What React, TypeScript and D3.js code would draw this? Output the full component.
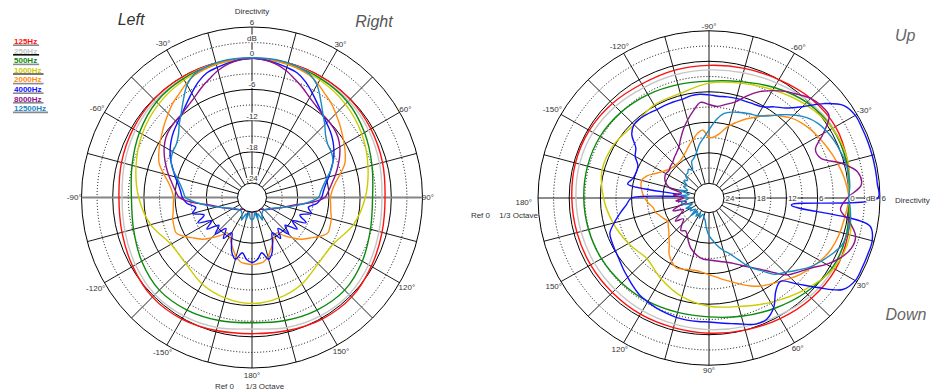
import React from 'react';
import * as d3 from 'd3';

// ── Data ────────────────────────────────────────────────────────────────────

const FREQS = ['125Hz', '250Hz', '500Hz', '1000Hz', '2000Hz', '4000Hz', '8000Hz', '12500Hz'];
const COLORS = ['#ff1010', '#c6c6c6', '#0c8a0c', '#cccc00', '#ff8c10', '#1010ff', '#8c148c', '#1a88c4'];
const UNDERLINES = ['#8a8a8a', '#111111', '#8a8a8a', '#555555', '#8a8a8a', '#8a8a8a', '#8a8a8a', '#8a8a8a'];

// Horizontal plot (Left / Right): 0° at top, half turn 0..180°, mirrored to the left side
const H_COARSE = d3.range(0, 181, 15);
const H_FINE = d3.range(0, 181, 5);
const H_125 = [0, 0, 0, -0.1, -0.4, -0.8, -1.2, -0.9, -0.3, 0.3, 0.2, -0.3, -0.6];
const H_250 = [0, -0.1, -0.3, -0.5, -0.9, -1.4, -1.8, -1.5, -0.9, -0.4, -0.5, -0.9, -1.5];
const H_500 = [0, -0.2, -0.4, -0.8, -1.8, -2.9, -3.6, -3.2, -2.3, -1.6, -1.8, -2.3, -2.7];
const H_1000 = [0, -0.3, -0.7, -1.4, -2.4, -3.7, -5.0, -6.6, -8.8, -8.8, -7.6, -6.8, -6.4];
const H_2000 = [0, 0, -0.1, -0.3, -0.5, -0.8, -1.5, -2.4, -3.1, -4.0, -4.8, -5.6, -6.3, -7.0, -7.8, -9.2, -10.5, -11.3, -11.7,
  -11.6, -11.4, -11.0, -10.8, -10.7, -11.8, -13.2, -14.3, -15.8, -17.2, -18.5, -18.2, -17.2, -16.2, -15.0, -14.2, -14.0, -13.9];
const H_4000 = [0, -0.2, -0.5, -0.9, -1.3, -2.3, -3.6, -4.8, -5.8, -6.5, -7.1, -7.8, -8.6, -9.5, -10.6, -11.5, -12.4, -13.0, -13.4,
  -14.2, -15.8, -15.0, -17.0, -15.3, -17.8, -16.2, -18.5, -16.8, -19.0, -17.2, -19.0, -17.5, -15.5, -14.5, -16.0, -14.8, -14.3];
const H_8000 = [0, -0.2, -0.7, -1.5, -2.6, -3.6, -4.6, -5.3, -5.8, -6.0, -6.2, -6.6, -7.3, -8.2, -9.2, -10.2, -11.2, -12.0, -12.8,
  -15.5, -18.5, -20.0, -21.0, -21.8, -22.4, -22.8, -23.2, -23.5, -23.8, -24, -24, -24, -24, -24, -24, -24, -24];
const H_12500 = [0.1, 0.1, 0.1, 0, -0.2, -0.6, -1.8, -3.8, -5.6, -7.0, -8.3, -9.0, -9.2, -9.6, -10.5, -11.8, -12.8, -13.5, -14.0,
  -16.0, -18.0, -19.8, -21.0, -22.0, -22.6, -23.0, -23.2, -23.4, -23.5, -23.3, -23.0, -22.0, -23.5, -22.5, -23.8, -22.8, -22.5];

// Vertical plot (Up / Down): 0° to the right, positive angles downwards, full turn
const V_COARSE = d3.range(-180, 180, 15);
const V_FINE = d3.range(-180, 180, 5);
const V_125 = [-0.5, -0.3, -0.3, -0.6, -1.0, -0.9, -0.8, -0.5, 0.0, 0.8, 1.2, 0.7, 0.1, 0.8, 1.2, 1.0, 0.5, 0.0, -0.3, -0.5, -0.5, -0.6, -0.6, -0.6];
const V_250 = [-1.3, -1.1, -1.1, -1.4, -1.8, -1.8, -1.7, -1.4, -0.8, 0.1, 0.7, 0.4, 0.0, 0.5, 0.8, 0.5, -0.2, -0.7, -1.0, -1.2, -1.3, -1.4, -1.4, -1.4];
const V_500 = [-2.8, -2.7, -2.7, -3.0, -3.4, -3.8, -3.9, -3.2, -1.8, -0.3, 0.5, 0.5, 0.0, 0.5, 0.5, -0.6, -1.8, -2.8, -3.5, -3.6, -3.4, -3.2, -3.0, -2.9];
const V_1000 = [-6.6, -5.6, -5.8, -6.5, -5.8, -5.6, -4.3, -3.5, -2.3, -0.8, 0.5, 0.8, 0.0, 1.2, 0.8, -1.2, -3.2, -4.8, -5.6, -6.8, -8.5, -10.0, -9.0, -7.8];
const V_2000 = [
  -14.5, -14.0, -13.6, -13.5, -14.2, -15.5, -16.5, -17.2, -17.6, -17.8,
  -17.8, -17.6, -17.2, -16.6, -15.8, -15.0, -14.0, -13.5, -15.0, -14.8,
  -13.8, -12.2, -11.0, -9.7, -8.5, -7.0, -5.8, -4.6, -3.8, -3.2,
  -2.7, -2.2, -1.7, -1.2, -0.7, -0.3, 0.0, -0.3, -0.6, -0.8,
  -1.1, -1.5, -2.2, -3.0, -3.7, -4.6, -5.5, -6.2, -6.9, -7.8,
  -8.8, -9.8, -10.6, -11.3, -11.8, -12.2, -12.4, -12.3, -12.0, -11.8,
  -12.5, -13.5, -15.0, -16.0, -16.8, -17.3, -17.7, -17.3, -16.8, -16.2,
  -16.0, -15.2];
const V_4000 = [
  -12.0, -22.0, -11.0, -11.8, -12.0, -11.8, -10.5, -9.7, -7.5, -6.5,
  -6.4, -6.6, -6.8, -6.8, -6.8, -6.8, -6.5, -6.4, -6.6, -6.8,
  -6.7, -6.6, -6.6, -6.5, -6.2, -5.0, -3.8, -1.5, 2.0, 4.8,
  5.6, 5.6, 5.6, 5.6, 5.6, 5.6, 5.6, -11.0, 4.5, 5.6,
  5.6, 5.6, 5.6, 4.5, 0.5, -3.0, -5.5, -4.5, -2.0, -0.6,
  -0.5, -1.2, -1.8, -2.2, -2.5, -2.5, -2.5, -2.6, -2.8, -3.0,
  -3.3, -3.6, -4.2, -4.8, -5.3, -5.8, -6.1, -6.3, -6.6, -8.0,
  -9.5, -10.9];
const V_8000 = [
  -22.0, -20.0, -21.5, -19.0, -18.0, -17.5, -17.3, -17.5, -17.2, -17.0,
  -16.5, -16.0, -15.3, -14.0, -12.5, -11.0, -9.5, -8.0, -8.5, -8.8,
  -8.2, -7.3, -5.5, -3.8, -2.5, -1.3, -0.3, 0.8, 1.3, 1.3,
  -1.5, -4.3, -4.0, -0.5, 2.2, 2.5, -0.3, -1.5, 0.6, 2.3,
  2.2, 1.0, -0.8, -2.9, -4.3, -5.5, -7.8, -9.8, -11.2, -12.3,
  -13.2, -13.8, -14.2, -14.5, -14.7, -14.8, -15.2, -15.8, -16.5, -17.5,
  -18.5, -19.0, -18.5, -19.5, -20.5, -19.0, -20.5, -21.5, -19.5, -21.0,
  -22.5, -20.5];
const V_12500 = [
  -23.0, -21.5, -23.0, -21.0, -22.5, -21.5, -22.0, -21.0, -21.5, -20.5,
  -20.5, -20.0, -20.5, -19.0, -18.5, -17.6, -16.2, -15.0, -13.5, -11.5,
  -10.0, -9.4, -9.0, -8.6, -8.2, -7.2, -5.5, -3.8, -2.3, -1.3,
  -0.7, -0.3, 0.0, 0.3, 0.4, 0.3, 0.0, 0.4, 0.7, 0.6,
  0.3, -0.8, -2.0, -3.2, -4.8, -6.2, -7.3, -9.5, -11.2, -13.5,
  -15.2, -16.2, -17.3, -18.5, -19.5, -21.0, -22.5, -23.0, -23.5, -22.5,
  -23.5, -22.5, -23.5, -22.0, -23.5, -22.5, -23.0, -22.0, -23.5, -22.0,
  -21.5, -22.5];

const ANGLE_TICKS = [-150, -120, -90, -60, -30, 30, 60, 90, 120, 150];
const H_RING_LABELS: [number, string][] = [[6, '6'], [3, 'dB'], [0, '0'], [-6, '-6'], [-12, '-12'], [-18, '-18'], [-24, '-24']];
const V_RING_LABELS: [number, string][] = [[-24, '24'], [-18, '18'], [-12, '12'], [-6, '6'], [0, '0'], [3, 'dB'], [6, '6']];

// ── Helpers ────────────────────────────────────────────────────────────────

const FONT = '"Liberation Sans", Arial, Helvetica, sans-serif';
const DB_MIN = -24;
const DB_MAX = 6;

type Pt = [number, number];

function mirrored(angles: number[], values: number[]): Pt[] {
  const pts: Pt[] = angles.map((a, i) => [a, values[i]]);
  for (let i = angles.length - 2; i >= 1; i--) pts.push([360 - angles[i], values[i]]);
  return pts;
}

const zip = (angles: number[], values: number[]): Pt[] => angles.map((a, i) => [a, values[i]]);

const H_CURVES: Pt[][] = [
  mirrored(H_COARSE, H_125), mirrored(H_COARSE, H_250), mirrored(H_COARSE, H_500), mirrored(H_COARSE, H_1000),
  mirrored(H_FINE, H_2000), mirrored(H_FINE, H_4000), mirrored(H_FINE, H_8000), mirrored(H_FINE, H_12500),
];
const V_CURVES: Pt[][] = [
  zip(V_COARSE, V_125), zip(V_COARSE, V_250), zip(V_COARSE, V_500), zip(V_COARSE, V_1000),
  zip(V_FINE, V_2000), zip(V_FINE, V_4000), zip(V_FINE, V_8000), zip(V_FINE, V_12500),
];

interface PolarProps {
  cx: number;
  cy: number;
  rIn: number;
  rOut: number;
  ky: number;
  orient: 'h' | 'v';
  curves: Pt[][];
}

function Polar({ cx, cy, rIn, rOut, ky, orient, curves }: PolarProps) {
  const r = d3.scaleLinear().domain([DB_MIN, DB_MAX]).range([rIn, rOut]).clamp(true);

  const xy = (deg: number, rad: number): Pt => {
    const t = (deg * Math.PI) / 180;
    return orient === 'h'
      ? [cx + rad * Math.sin(t), cy - rad * Math.cos(t) * ky]
      : [cx + rad * Math.cos(t), cy + rad * Math.sin(t) * ky];
  };
  const dir = (deg: number): Pt => {
    const t = (deg * Math.PI) / 180;
    return orient === 'h' ? [Math.sin(t), -Math.cos(t)] : [Math.cos(t), Math.sin(t)];
  };

  const line = d3.line<Pt>()
    .x(d => xy(d[0], r(d[1]))[0])
    .y(d => xy(d[0], r(d[1]))[1])
    .curve(d3.curveCatmullRomClosed.alpha(0.5));

  const rings = d3.range(-21, DB_MAX + 1, 3);
  const spokes = d3.range(0, 360, 15);
  const halo = { stroke: '#fff', strokeWidth: 2.5, paintOrder: 'stroke' as const };

  return (
    <g fontFamily={FONT}>
      {/* grid rings */}
      {rings.map(db => (
        <ellipse
          key={db}
          cx={cx}
          cy={cy}
          rx={r(db)}
          ry={r(db) * ky}
          fill="none"
          stroke="#000"
          strokeWidth={1}
          strokeDasharray={db % 6 === 0 ? undefined : '1 2'}
        />
      ))}
      {/* spokes */}
      {spokes.map(a => {
        const [x1, y1] = xy(a, rIn);
        const [x2, y2] = xy(a, rOut);
        return <line key={a} x1={x1} y1={y1} x2={x2} y2={y2} stroke="#000" strokeWidth={0.9} />;
      })}
      {orient === 'h' && (() => {
        const [x1, y1] = xy(-90, rOut);
        const [x2, y2] = xy(90, rOut);
        return <line x1={x1} y1={y1} x2={x2} y2={y2} stroke="#858585" strokeWidth={2} />;
      })()}

      {/* curves */}
      {curves.map((c, i) => (
        <path key={FREQS[i]} d={line(c) ?? ''} fill="none" stroke={COLORS[i]} strokeWidth={1.4} strokeLinejoin="round" />
      ))}

      {/* centre hole */}
      <ellipse cx={cx} cy={cy} rx={rIn} ry={rIn * ky} fill="#fff" stroke="#000" strokeWidth={1} />

      {/* angle labels */}
      {ANGLE_TICKS.map(a => {
        const text = `${a}°`;
        const [px, py] = xy(a, rOut);
        const [ux, uy] = dir(a);
        const w = text.length * 3.9;
        const off = 1.5 + Math.abs(ux) * (w / 2 - 2) + Math.abs(uy) * 3.5;
        return (
          <text key={a} x={px + ux * off} y={py + uy * off} dy="0.35em" textAnchor="middle" fontSize={8} fill="#333">
            {text}
          </text>
        );
      })}

      {orient === 'h' ? (
        <g fontSize={8} fill="#333">
          <text x={cx} y={14} textAnchor="middle">Directivity</text>
          {H_RING_LABELS.map(([db, t]) => (
            <text key={t} x={cx} y={cy - r(db) * ky - 2} textAnchor="middle" {...halo}>{t}</text>
          ))}
          <text x={cx} y={cy + rOut * ky + 7} dy="0.35em" textAnchor="middle">180°</text>
          <text x={cx - 18} y={cy + rOut * ky + 18} dy="0.35em" textAnchor="end">Ref 0</text>
          <text x={cx - 6.5} y={cy + rOut * ky + 18} dy="0.35em" textAnchor="start">1/3 Octave</text>
        </g>
      ) : (
        <g fontSize={8} fill="#333">
          {V_RING_LABELS.map(([db, t], i) => (
            <text key={i} x={cx + r(db) + 1.5} y={cy} dy="0.35em" textAnchor="start" {...halo}>{t}</text>
          ))}
          <text x={cx + rOut + 15} y={cy + 2} dy="0.35em" textAnchor="start">Directivity</text>
          <text x={cx - rOut - 6} y={cy + 4.5} dy="0.35em" textAnchor="end">180°</text>
          <text x={cx - rOut - 48} y={cy + 17} dy="0.35em" textAnchor="end">Ref 0</text>
          <text x={cx - rOut} y={cy + 17} dy="0.35em" textAnchor="end">1/3 Octave</text>
        </g>
      )}
    </g>
  );
}

function Legend() {
  return (
    <g fontFamily={FONT} fontSize={8} fontWeight="bold">
      {FREQS.map((f, i) => {
        const y = 44 + i * 9.6;
        const digits = f.length - 2;
        const w = (digits * 0.556 + 1.222) * 8;
        return (
          <g key={f}>
            <line x1={13} x2={14 + w + 2} y1={y + 1.2} y2={y + 1.2} stroke={UNDERLINES[i]} strokeWidth={1.6} />
            <text x={14} y={y} fill={COLORS[i]}>{f}</text>
          </g>
        );
      })}
    </g>
  );
}

export default function App() {
  return (
    <svg
      width={941}
      height={391}
      viewBox="0 0 941 391"
      style={{ position: 'absolute', left: 0, top: 0, background: '#fff' }}
    >
      <rect width={941} height={391} fill="#fff" />
      <Legend />
      <Polar cx={252} cy={197.5} rIn={14.5} rOut={170.5} ky={1} orient="h" curves={H_CURVES} />
      <Polar cx={709} cy={198} rIn={15} rOut={171} ky={0.978} orient="v" curves={V_CURVES} />

      <g fontFamily={FONT} fontStyle="italic" fontSize={16}>
        <text x={131} y={25} textAnchor="middle" fill="#333">Left</text>
        <text x={374} y={27} textAnchor="middle" fill="#555">Right</text>
        <text x={895} y={40.5} textAnchor="start" fill="#666">Up</text>
        <text x={906} y={320} textAnchor="middle" fill="#666">Down</text>
      </g>
    </svg>
  );
}
